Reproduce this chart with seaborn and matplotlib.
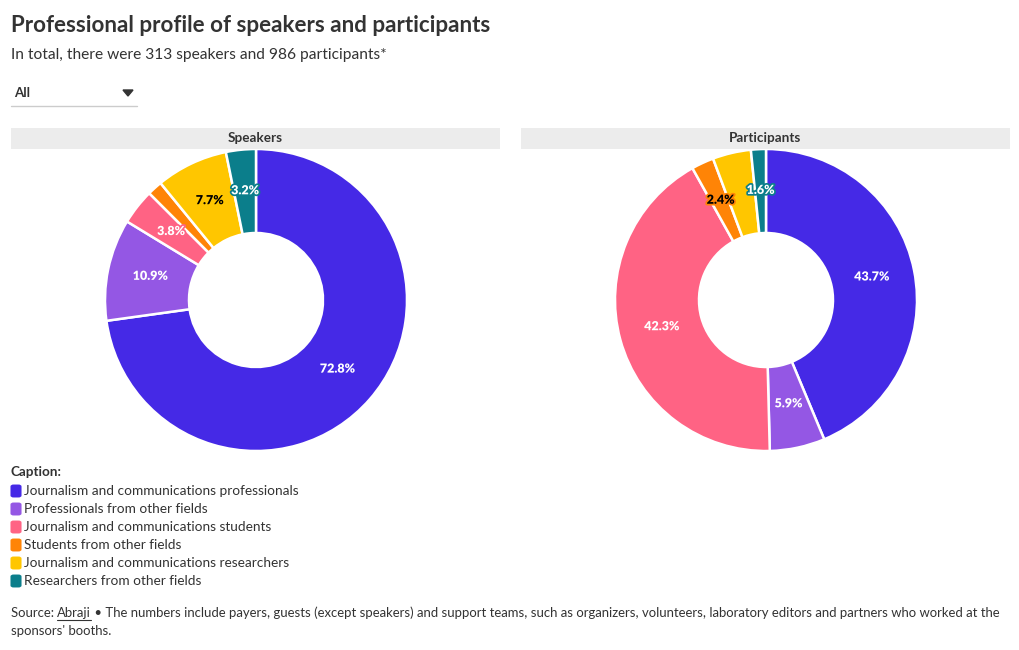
import math
import matplotlib
matplotlib.use("Agg")
import matplotlib.pyplot as plt
import matplotlib.patheffects as pe
from matplotlib.patches import Rectangle, FancyBboxPatch, Polygon
from matplotlib.lines import Line2D
import seaborn as sns

categories = [
    "Journalism and communications professionals",
    "Professionals from other fields",
    "Journalism and communications students",
    "Students from other fields",
    "Journalism and communications researchers",
    "Researchers from other fields",
]
colors = ["#4529E6", "#9457E4", "#FF6384", "#FF8406", "#FFC600", "#0B7E8B"]
label_colors = ["white", "white", "white", "black", "black", "white"]

speakers = [72.8, 10.9, 3.8, 1.6, 7.7, 3.2]
speakers_show = [True, True, True, False, True, True]
participants = [43.7, 5.9, 42.3, 2.4, 4.1, 1.6]
participants_show = [True, True, True, True, False, True]

panel_titles = ["Speakers", "Participants"]

sns.set_theme(style="white")
FONT = ["Lato", "DejaVu Sans"]
plt.rcParams["font.family"] = FONT
TXT = "#333333"

W, H = 1020, 650
fig = plt.figure(figsize=(W / 100, H / 100), dpi=100)


def fx(px):
    return px / W


def fy(py):
    return 1 - py / H


# Title & subtitle
fig.text(fx(11), fy(25), "Professional profile of speakers and participants",
         fontsize=16.1, fontweight="bold", color=TXT, va="center", ha="left")
fig.text(fx(11), fy(55), "In total, there were 313 speakers and 986 participants*",
         fontsize=11.2, color=TXT, va="center", ha="left")

# Dropdown
fig.text(fx(14), fy(93), "All", fontsize=9.5, fontweight="bold", color=TXT,
         va="center", ha="left")
fig.patches.append(Polygon([[fx(123), fy(90)], [fx(133), fy(90)], [fx(128), fy(96)]],
                           closed=True, transform=fig.transFigure, color=TXT))
fig.lines.append(Line2D([fx(11), fx(137)], [fy(106), fy(106)],
                        transform=fig.transFigure, color="#cccccc", lw=1))

panels = [
    (speakers, speakers_show, 11, 500, 256),
    (participants, participants_show, 521, 1010, 766),
]
cy = 300
R = 151
inner = 67

for (vals, show, x0, x1, cx), title in zip(panels, panel_titles):
    fig.patches.append(Rectangle((fx(x0), fy(149)), fx(x1) - fx(x0), fy(128) - fy(149),
                                 transform=fig.transFigure, color="#ececec", lw=0))
    fig.text(fx((x0 + x1) / 2), fy(138.5), title, fontsize=9.7, fontweight="bold",
             color=TXT, ha="center", va="center")
    half = 156
    ax = fig.add_axes([fx(cx - half), fy(cy + half), fx(2 * half), (2 * half) / H])
    wedges, _ = ax.pie(vals, colors=colors, startangle=90, counterclock=False,
                       radius=1.0,
                       wedgeprops=dict(width=(R - inner) / R, edgecolor="white",
                                       linewidth=1.8))
    ax.set_xlim(-half / R, half / R)
    ax.set_ylim(-half / R, half / R)
    ax.set_aspect("equal")
    ax.axis("off")
    total = sum(vals)
    cum = 0.0
    for v, s, c, lc in zip(vals, show, colors, label_colors):
        mid = (cum + v / 2) / total * 360
        cum += v
        if not s:
            continue
        ang = math.radians(90 - mid)
        r = 0.715
        ax.text(r * math.cos(ang), r * math.sin(ang) + 0.015, f"{v:.1f}%",
                ha="center", va="center", fontsize=9, fontweight="heavy", color=lc,
                path_effects=[pe.withStroke(linewidth=2.5, foreground=c)])

# Legend
fig.text(fx(11), fy(472), "Caption:", fontsize=9.7, fontweight="bold", color=TXT,
         va="center", ha="left")
for i, (cat, c) in enumerate(zip(categories, colors)):
    y = 491 + 18 * i
    fig.patches.append(FancyBboxPatch((fx(12), fy(y + 5.5)), fx(8), 11 / H,
                                      boxstyle="round,pad=0.0015,rounding_size=0.003",
                                      transform=fig.transFigure, color=c, lw=0))
    fig.text(fx(24), fy(y), cat, fontsize=9.8, color=TXT, va="center", ha="left")

# Source
FS = 9.45
t1 = fig.text(fx(11), fy(613), "Source: ", fontsize=FS, color=TXT, va="center", ha="left")
fig.canvas.draw()
r = fig.canvas.get_renderer()
bb = t1.get_window_extent(renderer=r)
xa = bb.x1 / W
t2 = fig.text(xa, fy(613), "Abraji", fontsize=FS, color=TXT, va="center", ha="left")
bb2 = t2.get_window_extent(renderer=r)
fig.lines.append(Line2D([bb2.x0 / W, bb2.x1 / W], [fy(620), fy(620)],
                        transform=fig.transFigure, color=TXT, lw=0.8))
fig.text(bb2.x1 / W, fy(613),
         " \u2022 The numbers include payers, guests (except speakers) and support teams, such as organizers, volunteers, laboratory editors and partners who worked at the",
         fontsize=FS, color=TXT, va="center", ha="left")
fig.text(fx(11), fy(631), "sponsors' booths.", fontsize=FS, color=TXT, va="center", ha="left")

fig.savefig("out.png", dpi=100, facecolor="white")
